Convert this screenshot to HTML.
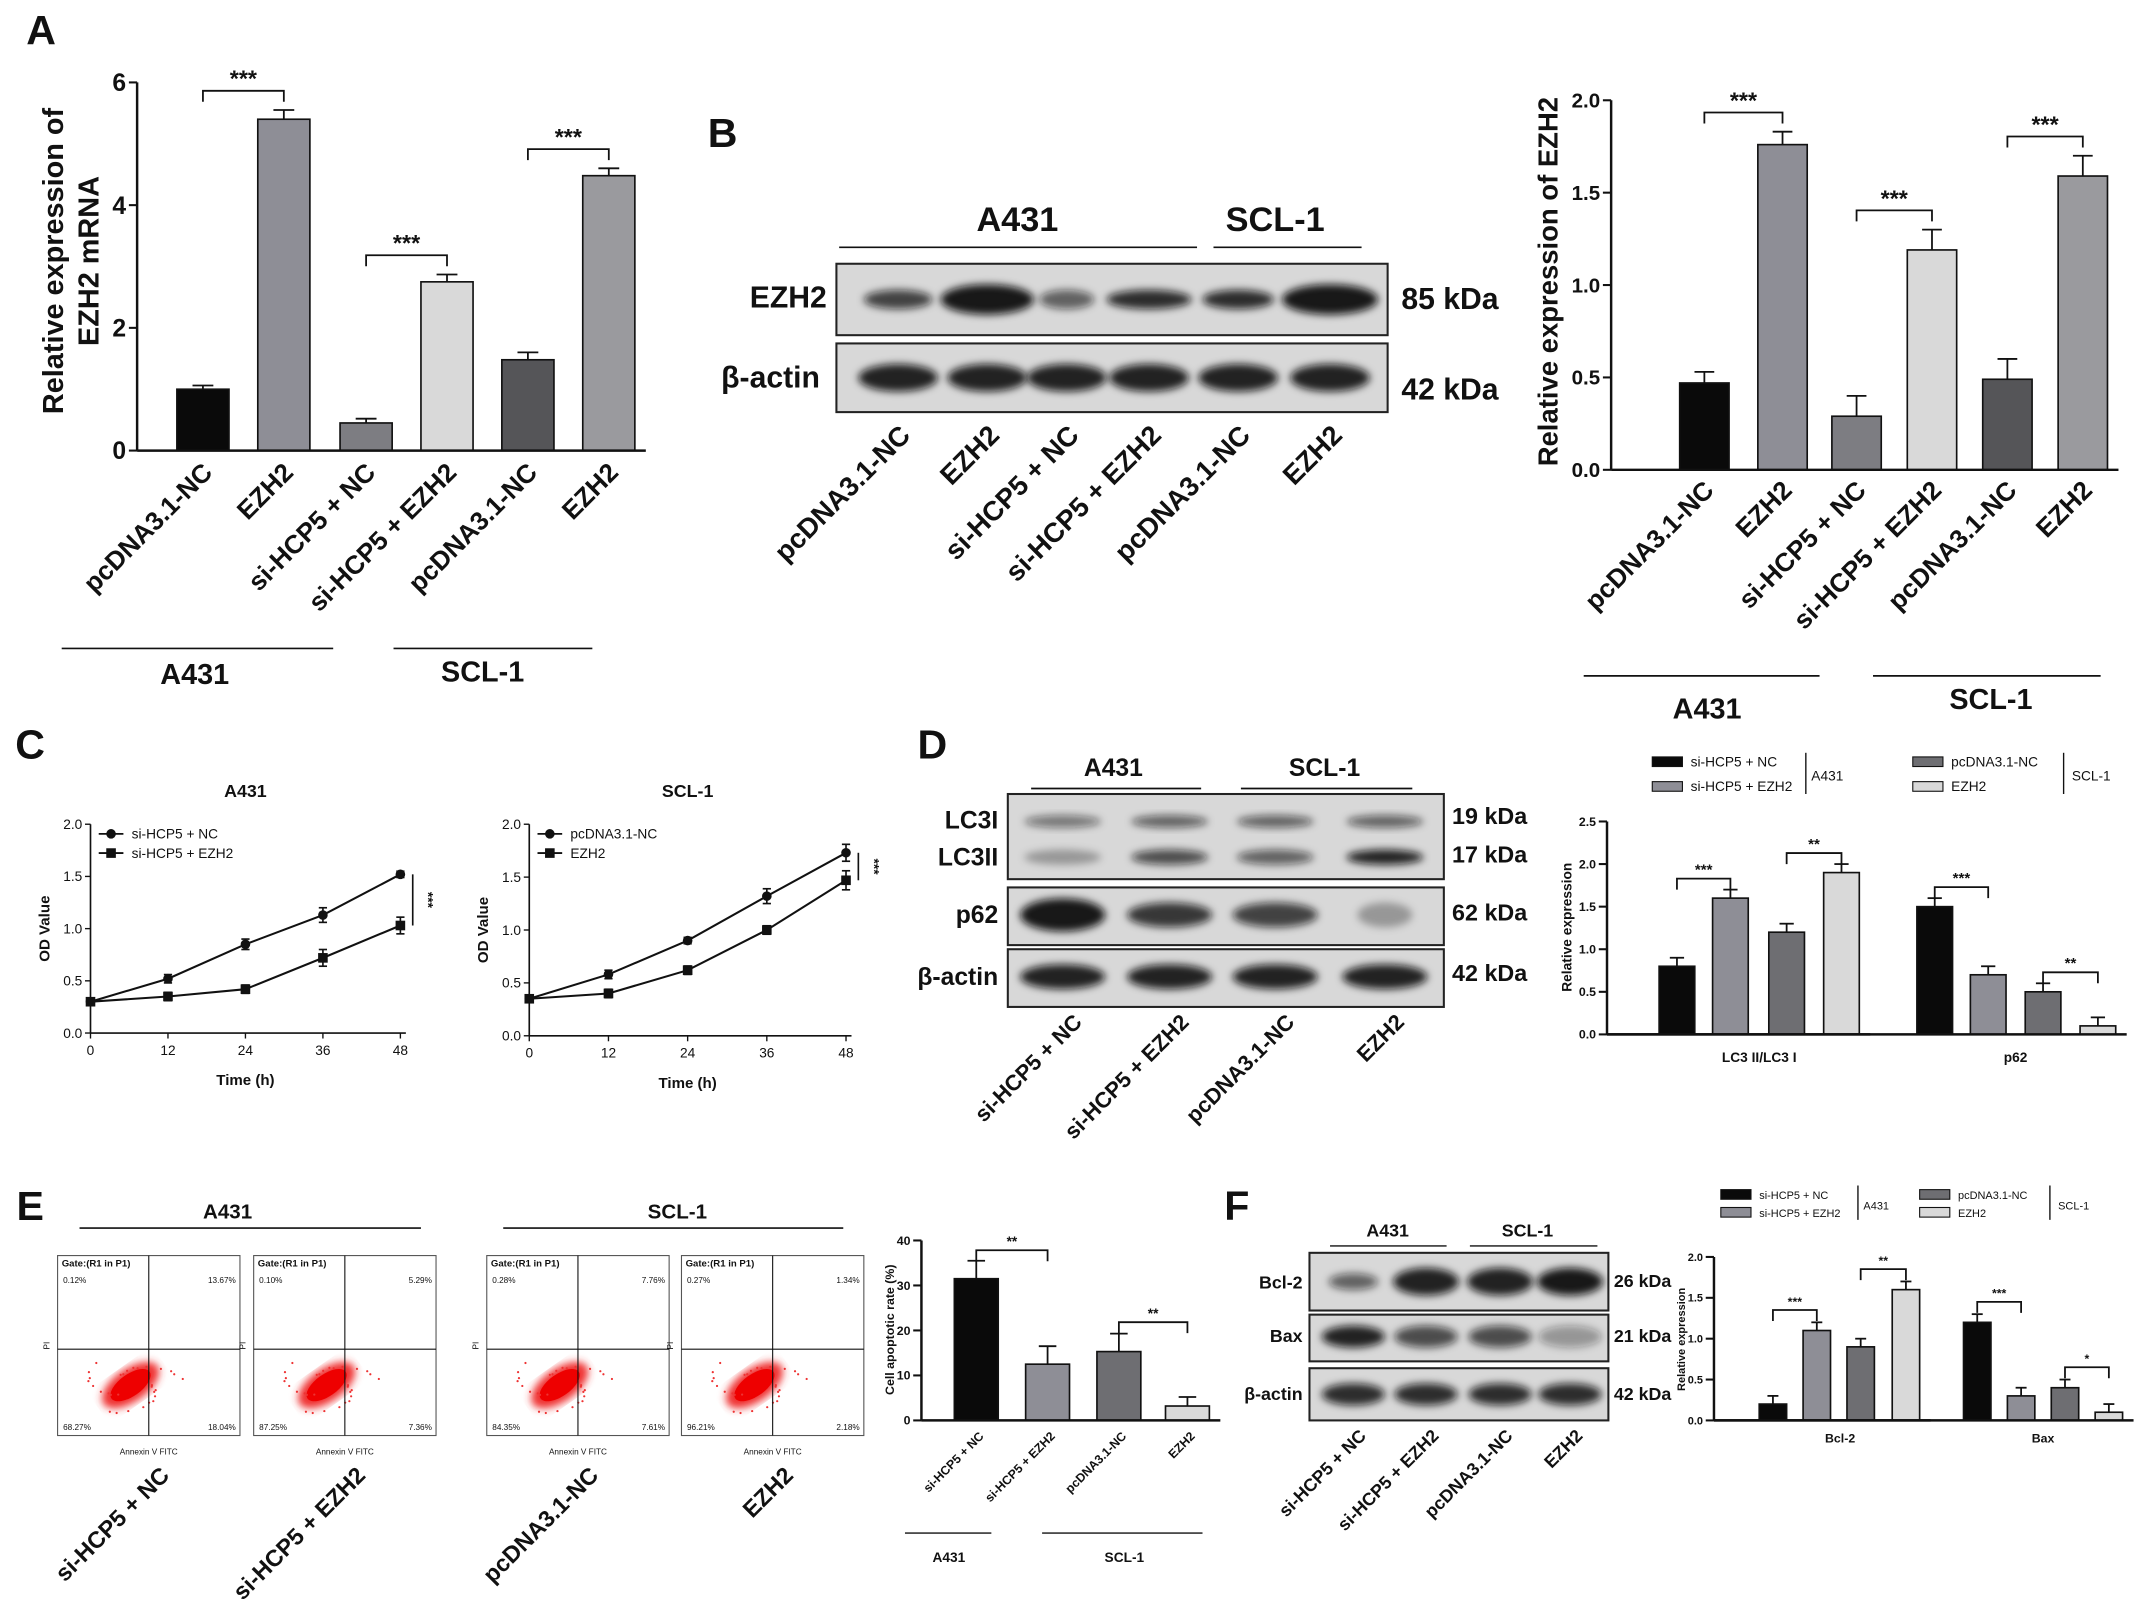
<!DOCTYPE html>
<html><head><meta charset="utf-8">
<style>
html,body{margin:0;padding:0;background:#fff;}
svg{display:block;font-family:"Liberation Sans",Arial,sans-serif;}
</style></head>
<body>
<svg id="fig" width="2150" height="1599" viewBox="0 0 1568 1164" preserveAspectRatio="none" xmlns="http://www.w3.org/2000/svg">
<defs>
<filter id="blur" x="-20%" y="-50%" width="140%" height="200%"><feGaussianBlur stdDeviation="3"/></filter>
<filter id="blur2"><feGaussianBlur stdDeviation="3"/></filter>
</defs>
</svg>
<script>
// ---- data ----
const aCats=["pcDNA3.1-NC","EZH2","si-HCP5 + NC","si-HCP5 + EZH2","pcDNA3.1-NC","EZH2"];
const aVals=[1.0,5.4,0.45,2.75,1.48,4.48];
const aErr=[0.06,0.15,0.07,0.12,0.12,0.12];
const aTicks=[0,2,4,6];
const bVals=[0.47,1.76,0.29,1.19,0.49,1.59];
const bErr=[0.06,0.07,0.11,0.11,0.11,0.11];
const bTicks=[0,0.5,1.0,1.5,2.0];
const cTimes=[0,12,24,36,48];
const cTicks=[0,0.5,1.0,1.5,2.0];
const cA431NC=[0.3,0.52,0.85,1.13,1.52];
const cA431EZH2=[0.3,0.35,0.42,0.72,1.03];
const cA431NCErr=[0.02,0.04,0.05,0.07,0.03];
const cA431EZErr=[0.02,0.04,0.04,0.08,0.08];
const cSCLNC=[0.35,0.58,0.9,1.32,1.73];
const cSCLEZH2=[0.35,0.4,0.62,1.0,1.47];
const cSCLNCErr=[0.02,0.04,0.03,0.07,0.08];
const cSCLEZErr=[0.02,0.04,0.04,0.04,0.09];
const dLC3=[0.8,1.6,1.2,1.9];
const dP62=[1.5,0.7,0.5,0.1];
const dLC3Err=[0.1,0.1,0.1,0.1];
const dP62Err=[0.1,0.1,0.1,0.1];
const dTicks=[0,0.5,1.0,1.5,2.0,2.5];
const eVals=[31.5,12.5,15.3,3.2];
const eErr=[4,4,4,2];
const eTicks=[0,10,20,30,40];
const fBcl=[0.2,1.1,0.9,1.6];
const fBax=[1.2,0.3,0.4,0.1];
const fBclErr=[0.1,0.1,0.1,0.1];
const fBaxErr=[0.1,0.1,0.1,0.1];
const fTicks=[0,0.5,1.0,1.5,2.0];
const flowQuad=[["0.12%","13.67%","68.27%","18.04%"],["0.10%","5.29%","87.25%","7.36%"],["0.28%","7.76%","84.35%","7.61%"],["0.27%","1.34%","96.21%","2.18%"]];

const NS="http://www.w3.org/2000/svg";
const svg=document.getElementById('fig');
function mk(tag,attrs,parent,name){
  const e=document.createElementNS(NS,tag);
  for(const k in attrs)e.setAttribute(k,attrs[k]);
  
  
  (parent||svg).appendChild(e);return e;
}
function txt(x,y,s,size,name,opts){
  opts=opts||{};
  const t=mk('text',{x:x,y:y,'font-size':size,'font-weight':opts.w||'bold','text-anchor':opts.a||'middle',fill:opts.fill||'#111'},opts.p||svg,name);
  if(opts.rot!==undefined)t.setAttribute('transform','rotate('+opts.rot+' '+x+' '+y+')');
  t.textContent=s;return t;
}
function line(x1,y1,x2,y2,name,w,p){return mk('line',{x1:x1,y1:y1,x2:x2,y2:y2,stroke:'#111','stroke-width':w||1.5},p||svg,name);}

function barAxis(ax,yTop,yBot,max,ticks,fs,name,fmt){
  line(ax,yTop,ax,yBot,name+'-y-axis',1.8);
  ticks.forEach(v=>{const y=yBot-(v/max)*(yBot-yTop);line(ax-6,y,ax,y,name+'-tick',1.5);
    txt(ax-8,y+fs*0.35,fmt?fmt(v):String(v),fs,name+'-tick-label',{a:'end'});});
}
function bars(ax,yTop,yBot,max,xs,vals,errs,w,colors,name){
  const ys=v=>yBot-(v/max)*(yBot-yTop);
  vals.forEach((v,i)=>{
    mk('rect',{x:xs[i]-w/2,y:ys(v),width:w,height:yBot-ys(v),fill:colors[i],stroke:'#111','stroke-width':1.2},svg,name+'-bar');
    const ye=ys(v+errs[i]);line(xs[i],ys(v),xs[i],ye,name+'-error-bar',1.3);line(xs[i]-w*0.2,ye,xs[i]+w*0.2,ye,name+'-error-cap',1.3);
  });
  line(ax,yBot,xs[xs.length-1]+w/2+8,yBot,name+'-x-axis',1.8);
  return ys;
}
function sig(x1,x2,y,s,fs,name){
  mk('path',{d:`M${x1} ${y+8}V${y}H${x2}V${y+8}`,fill:'none',stroke:'#111','stroke-width':1.3},svg,name+'-bracket');
  txt((x1+x2)/2,y-3,s,fs,name+'-star');
}
function blotBox(x,y,w,h,name){mk('rect',{x:x,y:y,width:w,height:h,fill:'#d8d8d8',stroke:'#222','stroke-width':1.5},svg,name);}
function band(cx,cy,w,h,op,name){mk('ellipse',{cx:cx,cy:cy,rx:w/2,ry:h/2,fill:'#111','fill-opacity':op,filter:'url(#blur)'},svg,name);}

// ===== Panel A =====
txt(30,32,'A',30,'panel-a-label');
const aX=[148,207,267,326,385,444];
const aColors=['#0a0a0a','#8e8e96','#7d7d82','#d9d9d9','#555558','#9a9a9e'];
barAxis(100,60,328,6,aTicks,18,'a-axis');
const aY=bars(100,60,328,6,aX,aVals,aErr,38,aColors,'a');
txt(46,190,'Relative expression of',21,'a-y-title',{rot:-90});
txt(72,190,'EZH2 mRNA',21,'a-y-title2',{rot:-90});
aCats.forEach((c,i)=>txt(aX[i]+8,345,c,19,'a-x-label',{a:'end',rot:-45}));
sig(148,207,aY(5.4+0.15)-14,'***',17,'a-sig1');
sig(267,326,aY(2.75+0.12)-14,'***',17,'a-sig2');
sig(385,444,aY(4.48+0.12)-14,'***',17,'a-sig3');
line(45,472,243,472,'a-group-line-a431',1.2);txt(142,498,'A431',21,'a-group-a431');
line(287,472,432,472,'a-group-line-scl1',1.2);txt(352,496,'SCL-1',21,'a-group-scl1');

// ===== Panel B blot =====
txt(527,107,'B',30,'panel-b-label');
txt(742,168,'A431',25,'b-blot-a431');txt(930,168,'SCL-1',25,'b-blot-scl1');
line(612,180,873,180,'b-blot-line-a431',1.2);line(885,180,993,180,'b-blot-line-scl1',1.2);
blotBox(610,192,402,52,'b-blot-ezh2');blotBox(610,250,402,50,'b-blot-actin');
const bLanes=[655,720,778,838,903,970];
const bEz=[[50,0.75],[68,0.95],[40,0.6],[62,0.85],[52,0.85],[70,0.95]];
bLanes.forEach((x,i)=>band(x,218,bEz[i][0],bEz[i][1]>0.9?22:14,bEz[i][1],'b-ezh2-band'));
bLanes.forEach(x=>band(x,275,58,20,0.9,'b-actin-band'));
txt(603,224,'EZH2',22,'b-ezh2-label',{a:'end'});txt(598,282,'β-actin',22,'b-actin-label',{a:'end'});
txt(1022,225,'85 kDa',22,'b-85kda',{a:'start'});txt(1022,291,'42 kDa',22,'b-42kda',{a:'start'});
aCats.forEach((c,i)=>txt(bLanes[i]+10,318,c,20,'b-lane-label',{a:'end',rot:-45}));

// ===== Panel B chart =====
const bX=[1243,1300,1354,1409,1464,1519];
barAxis(1175,73,342,2.0,bTicks,15,'b-axis',v=>v.toFixed(1));
const bY=bars(1175,73,342,2.0,bX,bVals,bErr,36,aColors,'b');
txt(1136,205,'Relative expression of EZH2',20,'b-y-title',{rot:-90});
aCats.forEach((c,i)=>txt(bX[i]+8,358,c,19,'b-x-label',{a:'end',rot:-45}));
sig(1243,1300,bY(1.83)-14,'***',17,'b-sig1');
sig(1354,1409,bY(1.30)-14,'***',17,'b-sig2');
sig(1464,1519,bY(1.70)-14,'***',17,'b-sig3');
line(1155,492,1327,492,'b-group-line-a431',1.2);txt(1245,523,'A431',21,'b-group-a431');
line(1366,492,1532,492,'b-group-line-scl1',1.2);txt(1452,516,'SCL-1',21,'b-group-scl1');

// ===== Panel C =====
txt(22,552,'C',30,'panel-c-label');
function lineChart(ax,axR,yTop,yBot,s1,e1,s2,e2,labels,title,name){
  const xs=t=>ax+t/48*(axR-ax), ys=v=>yBot-v/2*(yBot-yTop);
  line(ax,yTop,ax,yBot,name+'-y-axis',1.2);line(ax,yBot,axR+4,yBot,name+'-x-axis',1.2);
  cTicks.forEach(v=>{line(ax-4,ys(v),ax,ys(v),name+'-ytick',1);txt(ax-6,ys(v)+3.5,v.toFixed(1),10,name+'-ytick-label',{a:'end',w:'normal'});});
  cTimes.forEach(t=>{line(xs(t),yBot,xs(t),yBot+4,name+'-xtick',1);txt(xs(t),yBot+16,String(t),10,name+'-xtick-label',{w:'normal'});});
  txt((ax+axR)/2,yBot+38,'Time (h)',11,name+'-x-title');
  txt(ax-30,(yTop+yBot)/2,'OD Value',11,name+'-y-title',{rot:-90});
  txt((ax+axR)/2,yTop-20,title,13,name+'-title');
  [[s1,e1,'circle'],[s2,e2,'square']].forEach(([s,e,sh])=>{
    mk('polyline',{points:cTimes.map((t,i)=>xs(t)+','+ys(s[i])).join(' '),fill:'none',stroke:'#111','stroke-width':1.5},svg,name+'-line');
    cTimes.forEach((t,i)=>{
      line(xs(t),ys(s[i]-e[i]),xs(t),ys(s[i]+e[i]),name+'-err',1.2);
      line(xs(t)-3,ys(s[i]-e[i]),xs(t)+3,ys(s[i]-e[i]),name+'-errcap',1.2);
      line(xs(t)-3,ys(s[i]+e[i]),xs(t)+3,ys(s[i]+e[i]),name+'-errcap',1.2);
      if(sh==='circle')mk('circle',{cx:xs(t),cy:ys(s[i]),r:3.5,fill:'#111'},svg,name+'-point');
      else mk('rect',{x:xs(t)-3.5,y:ys(s[i])-3.5,width:7,height:7,fill:'#111'},svg,name+'-point');
    });
  });
  const lx=ax+6,ly=yTop+7;
  line(lx,ly,lx+18,ly,name+'-legend-line',1.3);mk('circle',{cx:lx+9,cy:ly,r:3.5,fill:'#111'},svg,name+'-legend-marker');
  txt(lx+24,ly+3.5,labels[0],10,name+'-legend-label',{a:'start',w:'normal'});
  line(lx,ly+14,lx+18,ly+14,name+'-legend-line',1.3);mk('rect',{x:lx+5.5,y:ly+10.5,width:7,height:7,fill:'#111'},svg,name+'-legend-marker');
  txt(lx+24,ly+17.5,labels[1],10,name+'-legend-label',{a:'start',w:'normal'});
  const x48=xs(48)+9;line(x48,ys(s1[4]),x48,ys(s2[4]),name+'-sig-line',1.2);
  txt(x48+8,(ys(s1[4])+ys(s2[4]))/2,'***',10,name+'-sig',{rot:90});
}
lineChart(66,292,600,752,cA431NC,cA431NCErr,cA431EZH2,cA431EZErr,['si-HCP5 + NC','si-HCP5 + EZH2'],'A431','c-a431');
lineChart(386,617,600,754,cSCLNC,cSCLNCErr,cSCLEZH2,cSCLEZErr,['pcDNA3.1-NC','EZH2'],'SCL-1','c-scl1');

// ===== Panel D blot =====
txt(680,552,'D',30,'panel-d-label');
txt(812,565,'A431',18,'d-blot-a431');txt(966,565,'SCL-1',18,'d-blot-scl1');
line(752,574,876,574,'d-blot-line',1.2);line(905,574,1030,574,'d-blot-line',1.2);
blotBox(735,578,318,62,'d-blot-lc3');blotBox(735,646,318,42,'d-blot-p62');blotBox(735,691,318,42,'d-blot-actin');
const dLanes=[775,853,930,1010];
const dLC3I=[0.5,0.6,0.6,0.6],dLC3II=[0.3,0.7,0.6,0.9],dP62b=[0.95,0.8,0.75,0.3];
dLanes.forEach((x,i)=>{band(x,598,56,9,dLC3I[i],'d-lc3i-band');band(x,624,56,11,dLC3II[i],'d-lc3ii-band');
  band(x,666,i===3?40:62,i===0?24:18,dP62b[i],'d-p62-band');band(x,711,62,18,0.9,'d-actin-band');});
txt(728,603,'LC3I',18,'d-lc3i-label',{a:'end'});txt(728,630,'LC3II',18,'d-lc3ii-label',{a:'end'});
txt(728,672,'p62',18,'d-p62-label',{a:'end'});txt(728,717,'β-actin',18,'d-actin-label',{a:'end'});
[['19 kDa',600],['17 kDa',628],['62 kDa',670],['42 kDa',714]].forEach(k=>txt(1059,k[1],k[0],17,'d-kda-label',{a:'start'}));
const dLaneNames=['si-HCP5 + NC','si-HCP5 + EZH2','pcDNA3.1-NC','EZH2'];
dLaneNames.forEach((c,i)=>txt(dLanes[i]+15,745,c,16,'d-lane-label',{a:'end',rot:-45}));

// ===== Panel D chart =====
const dCol=['#0a0a0a','#8e8e96','#6e6e72','#d9d9d9'];
barAxis(1172,598,753,2.5,dTicks,9,'d-axis',v=>v.toFixed(1));
const dX1=[1223,1262,1303,1343],dX2=[1411,1450,1490,1530];
const dY=bars(1172,598,753,2.5,dX1,dLC3,dLC3Err,26,dCol,'d-lc3');
bars(1172,598,753,2.5,dX2,dP62,dP62Err,26,dCol,'d-p62');
txt(1146,675,'Relative expression',10,'d-y-title',{rot:-90});
txt(1283,773,'LC3 II/LC3 I',10,'d-x-label-lc3');txt(1470,773,'p62',10,'d-x-label-p62');
sig(1223,1262,dY(1.7)-8,'***',11,'d-sig1');sig(1303,1343,dY(2.0)-8,'**',11,'d-sig2');
sig(1411,1450,dY(1.6)-8,'***',11,'d-sig3');sig(1490,1530,dY(0.6)-8,'**',11,'d-sig4');
function legend4(x,y,s,fs,name,cols,bx,rx,rb){
  const L=[['si-HCP5 + NC',cols[0]],['si-HCP5 + EZH2',cols[1]]],R=[['pcDNA3.1-NC',cols[2]],['EZH2',cols[3]]];
  L.forEach((l,i)=>{mk('rect',{x:x,y:y+i*s-5,width:22,height:7,fill:l[1],stroke:'#111','stroke-width':0.8},svg,name+'-swatch');txt(x+28,y+i*s+2,l[0],fs,name+'-label',{a:'start',w:'normal'});});
  line(x+bx,y-8,x+bx,y+s+4,name+'-bracket',1);txt(x+bx+4,y+s*0.5+3,'A431',fs,name+'-group',{a:'start',w:'normal'});
  R.forEach((l,i)=>{mk('rect',{x:x+rx,y:y+i*s-5,width:22,height:7,fill:l[1],stroke:'#111','stroke-width':0.8},svg,name+'-swatch');txt(x+rx+28,y+i*s+2,l[0],fs,name+'-label',{a:'start',w:'normal'});});
  line(x+rb,y-8,x+rb,y+s+4,name+'-bracket',1);txt(x+rb+6,y+s*0.5+3,'SCL-1',fs,name+'-group',{a:'start',w:'normal'});
}
legend4(1205,556,18,10,'d-legend',dCol,112,190,300);

// ===== Panel E =====
txt(22,888,'E',30,'panel-e-label');
txt(166,887,'A431',15,'e-a431-title');txt(494,887,'SCL-1',15,'e-scl1-title');
line(58,894,307,894,'e-line',1.2);line(367,894,615,894,'e-line',1.2);
const flowX=[42,185,355,497];
const flowNames=['si-HCP5 + NC','si-HCP5 + EZH2','pcDNA3.1-NC','EZH2'];
flowX.forEach((x,k)=>{
  const y=914,w=133,h=131;
  mk('rect',{x:x,y:y,width:w,height:h,fill:'#fff',stroke:'#555','stroke-width':0.8},svg,'e-flow-plot');
  const cx=x+w*0.4,cy=y+h*0.72;
  mk('ellipse',{cx:cx,cy:cy,rx:24,ry:12,fill:'#ef3030',transform:`rotate(-35 ${cx} ${cy})`,filter:'url(#blur2)'},svg,'e-flow-density');
  mk('ellipse',{cx:cx,cy:cy,rx:17,ry:8,fill:'#e00',transform:`rotate(-35 ${cx} ${cy})`},svg,'e-flow-core');
  for(let j=0;j<30;j++){const a=j*2.4,r=12+(j%7)*3;
    mk('circle',{cx:cx+Math.cos(a)*r*1.3,cy:cy+Math.sin(a)*r*0.7,r:0.8,fill:'#e33'},svg,'e-flow-dot');}
  line(x+w*0.5,y,x+w*0.5,y+h,'e-gate-v',0.8);line(x,y+h*0.52,x+w,y+h*0.52,'e-gate-h',0.8);
  txt(x+3,y+8,'Gate:(R1 in P1)',7,'e-gate-label',{a:'start'});
  const q=flowQuad[k];
  txt(x+4,y+20,q[0],6,'e-q1',{a:'start',w:'normal'});txt(x+w-3,y+20,q[1],6,'e-q2',{a:'end',w:'normal'});
  txt(x+4,y+h-4,q[2],6,'e-q3',{a:'start',w:'normal'});txt(x+w-3,y+h-4,q[3],6,'e-q4',{a:'end',w:'normal'});
  txt(x+w/2,y+h+14,'Annexin V FITC',6,'e-x-title',{w:'normal'});
  txt(x-6,y+h/2,'PI',6,'e-y-title',{w:'normal',rot:-90});
  txt(x+w*0.62,y+h+30,flowNames[k],17,'e-sample-label',{a:'end',rot:-45});
});
const eX=[712,764,816,866],eCol=['#0a0a0a','#8e8e96','#6e6e72','#d9d9d9'];
barAxis(672,903,1034,40,eTicks,9,'e-axis');
const eY=bars(672,903,1034,40,eX,eVals,eErr,32,eCol,'e');
txt(652,968,'Cell apoptotic rate (%)',9,'e-y-title-bar',{rot:-90});
flowNames.forEach((c,i)=>txt(eX[i]+6,1046,c,9,'e-x-label',{a:'end',rot:-45}));
sig(712,764,eY(36)-6,'**',10,'e-sig1');sig(816,866,eY(20)-6,'**',10,'e-sig2');
line(660,1116,723,1116,'e-group-line',1);txt(692,1137,'A431',10,'e-group-a431');
line(760,1116,877,1116,'e-group-line',1);txt(820,1137,'SCL-1',10,'e-group-scl1');

// ===== Panel F =====
txt(902,888,'F',30,'panel-f-label');
txt(1012,900,'A431',13,'f-blot-a431');txt(1114,900,'SCL-1',13,'f-blot-scl1');
line(970,907,1055,907,'f-blot-line',1);line(1072,907,1165,907,'f-blot-line',1);
blotBox(955,912,218,42,'f-blot-bcl2');blotBox(955,957,218,34,'f-blot-bax');blotBox(955,996,218,38,'f-blot-actin');
const fLanes=[987,1040,1094,1145],fBclB=[0.6,0.9,0.9,0.95],fBaxB=[0.9,0.7,0.7,0.35];
fLanes.forEach((x,i)=>{band(x,933,i===0?36:48,i===0?12:20,fBclB[i],'f-bcl2-band');band(x,973,46,16,fBaxB[i],'f-bax-band');band(x,1015,46,16,0.85,'f-actin-band');});
txt(950,938,'Bcl-2',13,'f-bcl2-label',{a:'end'});txt(950,977,'Bax',13,'f-bax-label',{a:'end'});txt(950,1019,'β-actin',13,'f-actin-label',{a:'end'});
txt(1177,937,'26 kDa',13,'f-26kda',{a:'start'});txt(1177,977,'21 kDa',13,'f-21kda',{a:'start'});txt(1177,1019,'42 kDa',13,'f-42kda',{a:'start'});
dLaneNames.forEach((c,i)=>txt(fLanes[i]+10,1046,c,13,'f-lane-label',{a:'end',rot:-45}));
barAxis(1250,915,1034,2.0,fTicks,8,'f-axis',v=>v.toFixed(1));
const fX1=[1293,1325,1357,1390],fX2=[1442,1474,1506,1538];
const fY=bars(1250,915,1034,2.0,fX1,fBcl,fBclErr,20,dCol,'f-bcl2');
bars(1250,915,1034,2.0,fX2,fBax,fBaxErr,20,dCol,'f-bax');
txt(1229,975,'Relative expression',8,'f-y-title',{rot:-90});
txt(1342,1050,'Bcl-2',9,'f-x-label-bcl2');txt(1490,1050,'Bax',9,'f-x-label-bax');
sig(1293,1325,fY(1.25)-6,'***',9,'f-sig1');sig(1357,1390,fY(1.75)-6,'**',9,'f-sig2');
sig(1442,1474,fY(1.35)-6,'***',9,'f-sig3');sig(1506,1538,fY(0.55)-6,'*',9,'f-sig4');
legend4(1255,871,13,8,'f-legend',dCol,100,145,240);
</script>
</body></html>
